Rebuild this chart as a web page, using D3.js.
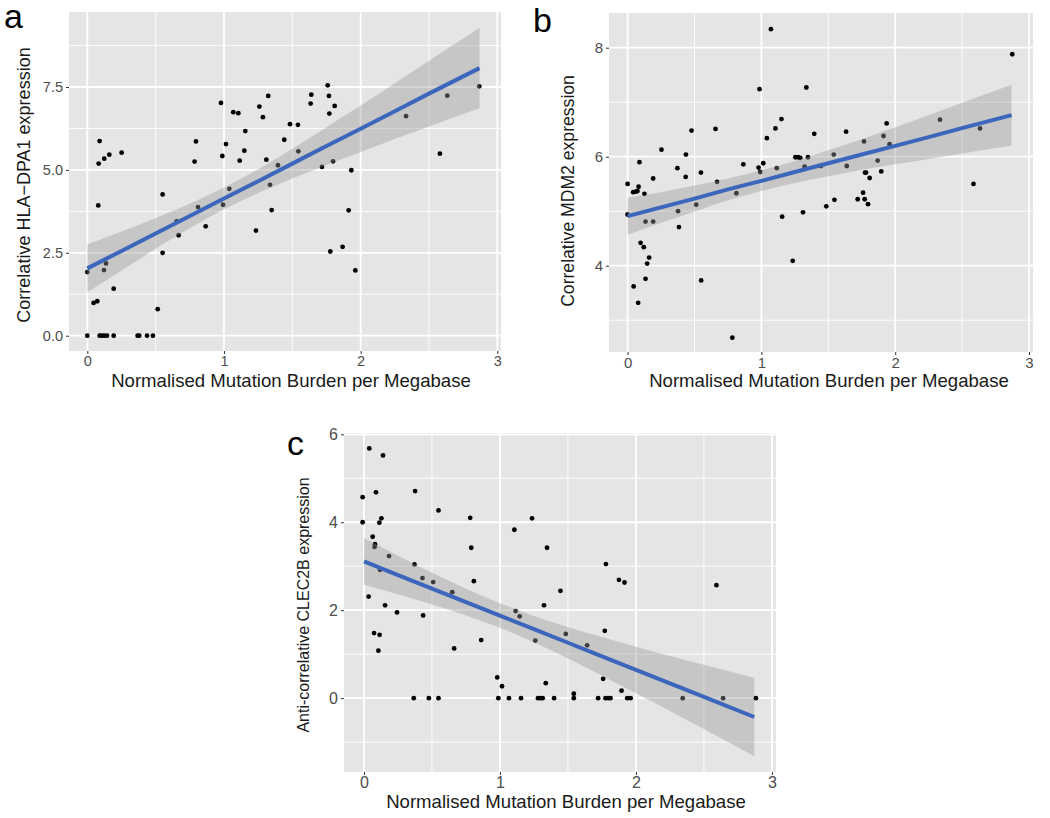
<!DOCTYPE html>
<html>
<head>
<meta charset="utf-8">
<script src="https://cdn.jsdelivr.net/npm/d3@7"></script>
<style>
  html, body { margin: 0; padding: 0; background: #ffffff; }
  svg { display: block; }
  text { font-family: "Liberation Sans", Arial, Helvetica, sans-serif; }
</style>
</head>
<body>
<svg id="chart" width="1050" height="818"></svg>
<script>
// ---------------- DATA ----------------
const xTicks = [0, 1, 2, 3];
const xTitle = "Normalised Mutation Burden per Megabase";

// Panel a : HLA-DPA1
const aX = [0,0,0.046,0.073,0.083,0.09,0.08,0.124,0.161,0.251,0.122,0.137,0.193,
  0.09,0.107,0.124,0.144,0.193,0.368,0.38,0.437,0.48,
  0.515,0.551,0.551,0.654,0.668,0.785,0.795,0.81,0.866,0.978,0.988,0.993,1.015,1.039,
  1.068,1.105,1.115,1.149,1.156,1.234,1.259,1.285,1.31,1.324,1.337,1.349,1.395,1.441,1.483,
  1.541,1.544,1.634,1.639,1.717,1.759,1.768,1.771,1.778,1.798,1.81,1.868,1.912,1.932,1.961,
  2.332,2.58,2.634,2.868];
const aY = [0,1.92,0.99,1.04,5.19,5.87,3.93,5.34,5.46,5.52,1.98,2.18,1.42,
  0,0,0,0,0,0,0,0,0,
  0.80,4.26,2.50,3.45,3.03,5.25,5.86,3.88,3.30,7.02,5.42,3.95,5.78,4.43,
  6.74,6.71,5.28,5.58,6.17,3.17,6.91,6.59,5.31,7.23,4.55,3.79,5.14,5.91,6.38,
  6.36,5.56,7.00,7.27,5.09,7.55,7.23,6.70,2.54,5.26,6.93,2.68,3.78,4.99,1.97,
  6.62,5.49,7.24,7.52];
const aYTicks = [0, 2.5, 5, 7.5];
const aYTickLabels = ["0.0", "2.5", "5.0", "7.5"];
const aYDomain = [-0.461, 9.762];
const aXDomain = [-0.134, 3.027];
const aYTitle = "Correlative HLA\u2212DPA1 expression";

// Panel b : MDM2
const bX = [0,0,0.042,0.062,0.074,0.082,0.089,0.097,0.045,0.079,0.121,0.126,0.134,0.134,0.146,
  0.161,0.191,0.191,0.253,0.372,0.377,0.384,0.436,0.434,0.478,0.513,0.548,0.55,0.657,0.669,
  0.783,0.813,0.865,0.986,0.979,0.991,1.014,1.041,1.071,1.105,1.115,1.15,1.155,1.234,1.254,
  1.274,1.291,1.311,1.323,1.336,1.348,1.395,1.445,1.485,1.541,1.546,1.633,1.638,1.72,1.76,
  1.767,1.772,1.774,1.782,1.797,1.809,1.869,1.896,1.913,1.936,1.958,2.335,2.585,2.634,2.875];
const bY = [5.50,4.94,5.35,5.36,5.37,5.45,5.90,4.42,3.62,3.32,4.34,5.32,4.81,3.76,4.04,
  4.15,5.60,4.81,6.13,5.79,5.00,4.71,6.04,5.63,6.48,5.12,5.71,3.73,6.51,5.54,
  2.68,5.33,5.86,7.24,5.80,5.72,5.88,6.34,8.34,6.52,5.79,6.69,4.90,4.09,5.99,
  5.99,5.98,4.98,5.82,7.27,5.99,6.42,5.83,5.09,6.04,5.21,6.46,5.83,5.22,5.34,
  6.28,5.22,5.71,5.71,5.13,5.61,5.93,5.73,6.38,6.61,6.23,6.68,5.50,6.52,7.88];
const bYTicks = [4, 6, 8];
const bYTickLabels = ["4", "6", "8"];
const bYDomain = [2.417, 8.637];
const bXDomain = [-0.139, 3.03];
const bYTitle = "Correlative MDM2 expression";

// Panel c : CLEC2B
const cX = [-0.01,-0.01,0.039,0.14,0.088,0.064,0.081,0.078,0.113,0.128,0.184,0.118,0.034,0.155,0.243,
  0.074,0.115,0.106,0.376,0.371,0.43,0.509,0.435,0.548,0.649,0.663,0.781,0.789,0.808,0.862,
  0.98,1.015,1.106,1.115,1.145,1.236,1.26,1.324,1.346,1.337,1.445,1.484,1.543,1.641,1.759,
  1.771,1.779,1.875,1.916,1.894,2.592,
  0.366,0.477,0.548,0.988,1.066,1.155,1.28,1.297,1.314,1.398,1.543,1.722,1.776,1.796,1.813,
  1.936,1.961,2.344,2.641,2.882];
const cY = [4.57,4.0,5.68,5.52,4.68,3.67,3.50,3.44,3.99,4.09,3.23,2.92,2.31,2.11,1.95,
  1.48,1.44,1.08,4.71,3.04,2.73,2.64,1.88,4.27,2.41,1.13,4.10,3.42,2.66,1.32,
  0.47,0.27,3.83,1.98,1.86,4.09,1.31,2.11,3.42,0.34,2.44,1.46,0.10,1.20,0.44,
  1.53,3.05,2.69,2.63,0.17,2.57,
  0,0,0,0,0,0,0,0,0,0,0,0,0,0,0,
  0,0,0,0,0];
const cYTicks = [0, 2, 4, 6];
const cYTickLabels = ["0", "2", "4", "6"];
const cYDomain = [-1.68, 6.03];
const cXDomain = [-0.147, 3.03];
const cYTitle = "Anti-correlative CLEC2B expression";

// Fitted lines and 95% confidence bands
const bandX = [0, 0.25, 0.5, 0.75, 1, 1.25, 1.5, 1.75, 2, 2.25, 2.5, 2.87];
const aFit = [2.03, 2.557, 3.083, 3.61, 4.136, 4.66, 5.19, 5.72, 6.24, 6.77, 7.30, 8.07];
const aLo  = [1.31, 1.97, 2.62, 3.24, 3.81, 4.30, 4.74, 5.15, 5.54, 5.93, 6.31, 6.86];
const aHi  = [2.75, 3.14, 3.55, 3.98, 4.47, 5.02, 5.64, 6.29, 6.94, 7.61, 8.29, 9.28];
const bFit = [4.91, 5.07, 5.23, 5.40, 5.556, 5.72, 5.88, 6.04, 6.20, 6.36, 6.525, 6.764];
const bLo  = [4.57, 4.79, 4.99, 5.20, 5.37, 5.52, 5.64, 5.76, 5.86, 5.96, 6.06, 6.20];
const bHi  = [5.25, 5.35, 5.47, 5.60, 5.75, 5.92, 6.12, 6.32, 6.54, 6.76, 6.99, 7.32];
const cFit = [3.11, 2.80, 2.49, 2.185, 1.877, 1.57, 1.26, 0.952, 0.644, 0.336, 0.028, -0.429];
const cLo  = [2.58, 2.36, 2.13, 1.88, 1.60, 1.27, 0.90, 0.51, 0.11, -0.29, -0.70, -1.32];
const cHi  = [3.64, 3.24, 2.85, 2.49, 2.16, 1.87, 1.62, 1.39, 1.17, 0.96, 0.76, 0.46];

// ---------------- DRAWING ----------------
const svg = d3.select("#chart");
svg.append("rect").attr("width", 1050).attr("height", 818).attr("fill", "#ffffff");

const FONT = '"Liberation Sans", Arial, Helvetica, sans-serif';

function drawPanel(p) {
  const g = svg.append("g").attr("transform", `translate(${p.left},${p.top})`);
  const x = d3.scaleLinear().domain(p.xDomain).range([0, p.w]);
  const y = d3.scaleLinear().domain(p.yDomain).range([p.h, 0]);

  // background
  g.append("rect").attr("width", p.w).attr("height", p.h).attr("fill", "#e5e5e5");

  // minor grid (midpoints between majors)
  const minorOf = (ticks, dom) => {
    const step = ticks[1] - ticks[0];
    const out = [];
    for (let v = ticks[0] - step / 2; v <= ticks[ticks.length - 1] + step; v += step) {
      if (v > dom[0] && v < dom[1]) out.push(v);
    }
    return out;
  };
  const grid = g.append("g");
  minorOf(xTicks, p.xDomain).forEach(v => grid.append("line")
    .attr("x1", x(v)).attr("x2", x(v)).attr("y1", 0).attr("y2", p.h)
    .attr("stroke", "#ffffff").attr("stroke-width", 0.9));
  minorOf(p.yTicks, p.yDomain).forEach(v => grid.append("line")
    .attr("y1", y(v)).attr("y2", y(v)).attr("x1", 0).attr("x2", p.w)
    .attr("stroke", "#ffffff").attr("stroke-width", 0.9));
  xTicks.forEach(v => grid.append("line")
    .attr("x1", x(v)).attr("x2", x(v)).attr("y1", 0).attr("y2", p.h)
    .attr("stroke", "#ffffff").attr("stroke-width", 1.8));
  p.yTicks.forEach(v => grid.append("line")
    .attr("y1", y(v)).attr("y2", y(v)).attr("x1", 0).attr("x2", p.w)
    .attr("stroke", "#ffffff").attr("stroke-width", 1.8));

  // axes (ticks + labels) via d3 axes
  const yAxis = d3.axisLeft(y).tickValues(p.yTicks)
    .tickFormat((d, i) => p.yTickLabels[i]).tickSize(3).tickPadding(3);
  const ya = g.append("g").call(yAxis);
  ya.select(".domain").remove();
  ya.selectAll(".tick line").attr("stroke", "#333333");
  ya.selectAll(".tick text").attr("fill", "#4d4d4d")
    .style("font-size", p.tickFont + "px").style("font-family", FONT);

  const xAxis = d3.axisBottom(x).tickValues(xTicks).tickFormat(d3.format("d"))
    .tickSize(3).tickPadding(2);
  const xa = g.append("g").attr("transform", `translate(0,${p.h})`).call(xAxis);
  xa.select(".domain").remove();
  xa.selectAll(".tick line").attr("stroke", "#333333");
  xa.selectAll(".tick text").attr("fill", "#4d4d4d")
    .style("font-size", p.tickFont + "px").style("font-family", FONT);

  // points
  const pts = p.xs.map((v, i) => [v, p.ys[i]]);
  g.append("g").selectAll("circle").data(pts).join("circle")
    .attr("cx", d => x(d[0])).attr("cy", d => y(d[1])).attr("r", 2.4)
    .attr("fill", "#000000");

  // confidence band
  const band = bandX.map((v, i) => ({ x: v, lo: p.lo[i], hi: p.hi[i], fit: p.fit[i] }));
  g.append("path").datum(band)
    .attr("d", d3.area().x(d => x(d.x)).y0(d => y(d.lo)).y1(d => y(d.hi)).curve(d3.curveMonotoneX))
    .attr("fill", "#999999").attr("fill-opacity", 0.4);
  g.append("path").datum(band)
    .attr("d", d3.line().x(d => x(d.x)).y(d => y(d.fit)))
    .attr("fill", "none").attr("stroke", "#3b66bb").attr("stroke-width", 4);

  // titles
  svg.append("text").attr("x", p.xTitleX).attr("y", p.xTitleY)
    .attr("text-anchor", "middle").attr("fill", "#1a1a1a")
    .style("font-size", "18.6px").text(xTitle);
  svg.append("text")
    .attr("transform", `translate(${p.yTitleX},${p.yTitleY}) rotate(-90)`)
    .attr("text-anchor", "middle").attr("fill", "#1a1a1a")
    .style("font-size", p.yTitleFont + "px").text(p.yTitle);
  svg.append("text").attr("x", p.letterX).attr("y", p.letterY)
    .attr("fill", "#000000").style("font-size", "34px").text(p.letter);
}

drawPanel({
  letter: "a", letterX: 4, letterY: 28,
  left: 69, top: 12, w: 432, h: 339,
  xDomain: aXDomain, yDomain: aYDomain, yTicks: aYTicks, yTickLabels: aYTickLabels,
  xs: aX, ys: aY, fit: aFit, lo: aLo, hi: aHi,
  tickFont: 14.5, xTitleX: 291, xTitleY: 387,
  yTitle: aYTitle, yTitleX: 30, yTitleY: 185, yTitleFont: 18
});
drawPanel({
  letter: "b", letterX: 533, letterY: 32,
  left: 609, top: 13, w: 424, h: 339,
  xDomain: bXDomain, yDomain: bYDomain, yTicks: bYTicks, yTickLabels: bYTickLabels,
  xs: bX, ys: bY, fit: bFit, lo: bLo, hi: bHi,
  tickFont: 15, xTitleX: 829, xTitleY: 386.5,
  yTitle: bYTitle, yTitleX: 574, yTitleY: 191, yTitleFont: 17.6
});
drawPanel({
  letter: "c", letterX: 287, letterY: 455,
  left: 344, top: 433, w: 432, h: 339,
  xDomain: cXDomain, yDomain: cYDomain, yTicks: cYTicks, yTickLabels: cYTickLabels,
  xs: cX, ys: cY, fit: cFit, lo: cLo, hi: cHi,
  tickFont: 16, xTitleX: 566, xTitleY: 807.5,
  yTitle: cYTitle, yTitleX: 309, yTitleY: 605, yTitleFont: 16
});
</script>
</body>
</html>
